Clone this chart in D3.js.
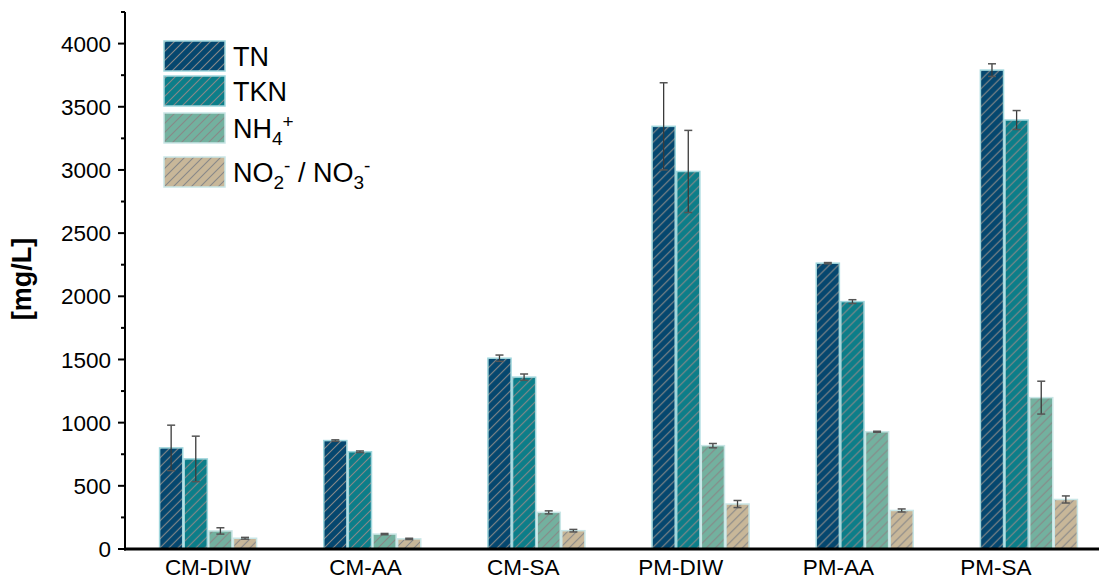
<!DOCTYPE html>
<html>
<head>
<meta charset="utf-8">
<script src="https://cdn.jsdelivr.net/npm/d3@7"></script>
<style>
  html, body { margin: 0; padding: 0; background: #fff; }
  svg { display: block; font-family: Arial, "Liberation Sans", sans-serif; }
</style>
</head>
<body>
<svg id="chart" width="1099" height="579"></svg>
<script>
// Sample groups
const categories = ["CM-DIW", "CM-AA", "CM-SA", "PM-DIW", "PM-AA", "PM-SA"];

// Nitrogen fractions (mg/L) with standard deviations
const seriesKeys = ["TN", "TKN", "NH4", "NOx"];
const tnValues   = [800, 858, 1510, 3345, 2262, 3790];
const tnErrors   = [180, 6, 25, 345, 5, 50];
const tknValues  = [713, 770, 1360, 2988, 1958, 3395];
const tknErrors  = [180, 6, 25, 325, 15, 75];
const nh4Values  = [143, 118, 290, 818, 928, 1198];
const nh4Errors  = [25, 5, 12, 17, 4, 130];
const noxValues  = [85, 80, 145, 356, 305, 392];
const noxErrors  = [7, 5, 10, 28, 12, 28];

const yTicks = [0, 500, 1000, 1500, 2000, 2500, 3000, 3500, 4000];

const valuesBySeries = { TN: tnValues, TKN: tknValues, NH4: nh4Values, NOx: noxValues };
const errorsBySeries = { TN: tnErrors, TKN: tknErrors, NH4: nh4Errors, NOx: noxErrors };

const fills = { TN: "#05476f", TKN: "#0c7e89", NH4: "#73b19f", NOx: "#c8b799" };

const svg = d3.select("#chart");
const axisLeft = 125, axisBottom = 549, axisTop = 12;

const y = d3.scaleLinear().domain([0, 4250]).range([axisBottom, axisTop]);

// group placement of the bars
const x0 = d3.scaleBand().domain(categories).range([126, 1111]).paddingInner(0.4).paddingOuter(0.2);
const x1 = d3.scaleBand().domain(seriesKeys).range([0, x0.bandwidth()]);
// tick label placement
const xl = d3.scalePoint().domain(categories).range([208, 996]);

// hatch patterns
const defs = svg.append("defs");
const hs = 9;
seriesKeys.forEach(k => {
  const p = defs.append("pattern")
    .attr("id", "hatch-" + k)
    .attr("patternUnits", "userSpaceOnUse")
    .attr("width", hs).attr("height", hs);
  p.append("rect").attr("width", hs).attr("height", hs).attr("fill", fills[k]);
  p.append("path")
    .attr("d", `M-2,2 L2,-2 M0,${hs} L${hs},0 M${hs - 2},${hs + 2} L${hs + 2},${hs - 2}`)
    .attr("stroke", "#888").attr("stroke-width", 1.1);
});

// bars
const groups = svg.append("g").selectAll("g")
  .data(categories).join("g")
  .attr("transform", d => `translate(${x0(d)},0)`);

const rows = (c, i) => seriesKeys.map(k => ({ key: k, v: valuesBySeries[k][i], e: errorsBySeries[k][i] }));

groups.each(function (c, i) {
  const g = d3.select(this);
  const data = rows(c, i);
  g.selectAll("rect").data(data).join("rect")
    .attr("x", d => x1(d.key) + 0.75)
    .attr("width", x1.bandwidth() - 1.5)
    .attr("y", d => y(d.v))
    .attr("height", d => y(0) - y(d.v))
    .attr("fill", d => `url(#hatch-${d.key})`)
    .attr("stroke", d => (d.key === "NOx" || d.key === "NH4") ? "#c9e6e6" : "#9fd6dc")
    .attr("stroke-width", 1.5);

  const eb = g.selectAll("g.err").data(data).join("g").attr("class", "err");
  eb.append("line")
    .attr("x1", d => x1(d.key) + x1.bandwidth() / 2)
    .attr("x2", d => x1(d.key) + x1.bandwidth() / 2)
    .attr("y1", d => y(d.v + d.e))
    .attr("y2", d => y(d.v - d.e))
    .attr("stroke", "#3a3a3a").attr("stroke-width", 1.3);
  eb.selectAll("line.cap").data(d => [d.v + d.e, d.v - d.e].map(v => ({ key: d.key, v })))
    .join("line").attr("class", "cap")
    .attr("x1", d => x1(d.key) + x1.bandwidth() / 2 - 4)
    .attr("x2", d => x1(d.key) + x1.bandwidth() / 2 + 4)
    .attr("y1", d => y(d.v)).attr("y2", d => y(d.v))
    .attr("stroke", "#555").attr("stroke-width", 1.5);
});

// y axis
const yAxis = svg.append("g").attr("transform", `translate(${axisLeft},0)`);
yAxis.append("line").attr("x1", 0).attr("x2", 0).attr("y1", axisTop).attr("y2", axisBottom + 1.5)
  .attr("stroke", "#000").attr("stroke-width", 2);
yAxis.selectAll("line.major").data(yTicks).join("line").attr("class", "major")
  .attr("x1", -7).attr("x2", 0).attr("y1", d => y(d)).attr("y2", d => y(d))
  .attr("stroke", "#000").attr("stroke-width", 2);
yAxis.selectAll("line.minor").data(yTicks.map(t => t + 250)).join("line").attr("class", "minor")
  .attr("x1", -4).attr("x2", 0).attr("y1", d => y(d)).attr("y2", d => y(d))
  .attr("stroke", "#000").attr("stroke-width", 2);
yAxis.selectAll("text").data(yTicks).join("text")
  .attr("x", -14).attr("y", d => y(d)).attr("dy", "0.36em")
  .attr("text-anchor", "end").attr("font-size", 22.5).attr("fill", "#000")
  .text(d => d);

svg.append("text")
  .attr("transform", `translate(31,279) rotate(-90)`)
  .attr("text-anchor", "middle").attr("font-size", 27).attr("font-weight", "bold")
  .text("[mg/L]");

// x axis
svg.append("line").attr("x1", axisLeft - 1).attr("x2", 1099).attr("y1", axisBottom).attr("y2", axisBottom)
  .attr("stroke", "#000").attr("stroke-width", 3);
svg.append("g").selectAll("text").data(categories).join("text")
  .attr("x", d => xl(d)).attr("y", 575)
  .attr("text-anchor", "middle").attr("font-size", 22.5).attr("fill", "#000")
  .text(d => d);

// legend
const legendItems = [
  { key: "TN", y: 41 },
  { key: "TKN", y: 76 },
  { key: "NH4", y: 113 },
  { key: "NOx", y: 157 }
];
const lg = svg.append("g");
legendItems.forEach(it => {
  lg.append("rect").attr("x", 164).attr("y", it.y).attr("width", 61).attr("height", 30)
    .attr("fill", `url(#hatch-${it.key})`)
    .attr("stroke", (it.key === "NOx" || it.key === "NH4") ? "#c9e6e6" : "#9fd6dc")
    .attr("stroke-width", 1.5);
  const t = lg.append("text").attr("x", 233).attr("y", it.y + 25).attr("font-size", 27).attr("fill", "#000");
  if (it.key === "TN") t.text("TN");
  else if (it.key === "TKN") t.text("TKN");
  else if (it.key === "NH4") {
    t.append("tspan").text("NH");
    t.append("tspan").attr("font-size", 19).attr("dy", 7).text("4");
    t.append("tspan").attr("font-size", 19).attr("dy", -17).text("+");
  } else {
    t.append("tspan").text("NO");
    t.append("tspan").attr("font-size", 19).attr("dy", 7).text("2");
    t.append("tspan").attr("font-size", 19).attr("dy", -17).text("-");
    t.append("tspan").attr("dy", 10).text(" / NO");
    t.append("tspan").attr("font-size", 19).attr("dy", 7).text("3");
    t.append("tspan").attr("font-size", 19).attr("dy", -17).text("-");
  }
});
</script>
</body>
</html>
